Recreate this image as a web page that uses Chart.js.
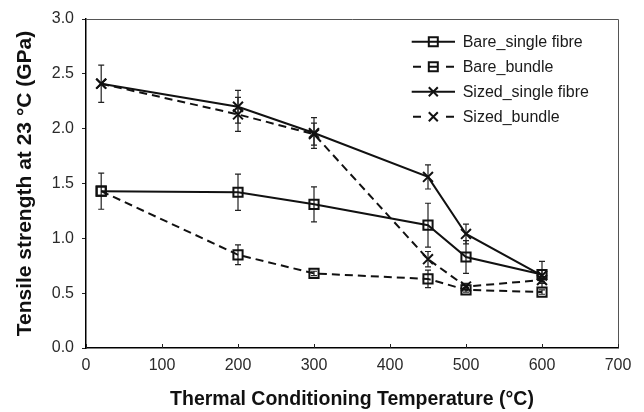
<!DOCTYPE html>
<html><head><meta charset="utf-8">
<script src="https://cdn.jsdelivr.net/npm/chart.js@4.4.1/dist/chart.umd.min.js"></script>
<style>html,body{margin:0;padding:0;background:#fff}#wrap{width:644px;height:412px}</style>
</head><body><div id="wrap"><canvas id="c" width="644" height="412"></canvas></div>
<script>
// ---- data ----
const temperatures = [20, 200, 300, 450, 500, 600];
const seriesNames = ['Bare_single fibre', 'Bare_bundle', 'Sized_single fibre', 'Sized_bundle'];
const bareSingle = [1.43, 1.42, 1.31, 1.12, 0.83, 0.67];
const bareSingleErr = [0.165, 0.165, 0.16, 0.20, 0.15, 0.12];
const bareBundle = [1.43, 0.85, 0.68, 0.63, 0.53, 0.51];
const bareBundleErr = [0, 0.09, 0.02, 0.08, 0.02, 0.02];
const sizedSingle = [2.41, 2.20, 1.96, 1.56, 1.04, 0.66];
const sizedSingleErr = [0.17, 0.15, 0.14, 0.11, 0.09, 0.05];
const sizedBundle = [2.41, 2.13, 1.95, 0.81, 0.56, 0.62];
const sizedBundleErr = [0, 0.155, 0.10, 0.07, 0.03, 0.03];
const xTickValues = [0, 100, 200, 300, 400, 500, 600, 700];
const yTickValues = [0, 0.5, 1.0, 1.5, 2.0, 2.5, 3.0];
const xTitle = 'Thermal Conditioning Temperature (°C)';
const yTitle = 'Tensile strength at 23 °C (GPa)';

const FONT = '"Liberation Sans", Arial, Helvetica, sans-serif';
const INK = '#111';

function pts(vals){ return temperatures.map((t,i)=>({x:t, y:vals[i]})); }

const errors = [bareSingleErr, bareBundleErr, sizedSingleErr, sizedBundleErr];

const errorBarPlugin = {
  id: 'errorBars',
  beforeDatasetsDraw(chart){
    const ctx = chart.ctx, xs = chart.scales.x, ys = chart.scales.y;
    ctx.save();
    ctx.strokeStyle = '#222';
    ctx.lineWidth = 1.2;
    chart.data.datasets.forEach((ds, i) => {
      const err = errors[i];
      ds.data.forEach((p, j) => {
        const e = err[j];
        if (!e) return;
        const x = xs.getPixelForValue(p.x);
        const y1 = ys.getPixelForValue(p.y + e);
        const y2 = ys.getPixelForValue(p.y - e);
        ctx.beginPath();
        ctx.moveTo(x, y1); ctx.lineTo(x, y2);
        ctx.moveTo(x - 3, y1); ctx.lineTo(x + 3, y1);
        ctx.moveTo(x - 3, y2); ctx.lineTo(x + 3, y2);
        ctx.stroke();
      });
    });
    ctx.restore();
  }
};

const framePlugin = {
  id: 'frame',
  afterDraw(chart){
    const ctx = chart.ctx, a = chart.chartArea, xs = chart.scales.x;
    ctx.save();
    ctx.strokeStyle = '#555';
    ctx.lineWidth = 1;
    ctx.beginPath();
    ctx.moveTo(a.left, a.top + 0.5); ctx.lineTo(a.right + 0.5, a.top + 0.5); ctx.lineTo(a.right + 0.5, a.bottom);
    ctx.stroke();
    // inward x ticks
    ctx.strokeStyle = '#222';
    ctx.beginPath();
    xTickValues.forEach(v => {
      const x = Math.round(xs.getPixelForValue(v)) + 0.5;
      ctx.moveTo(x, a.bottom); ctx.lineTo(x, a.bottom - 4);
    });
    ctx.stroke();
    ctx.restore();
  }
};

const legendPlugin = {
  id: 'customLegend',
  afterDraw(chart){
    const ctx = chart.ctx;
    ctx.save();
    chart.data.datasets.forEach((ds, i) => {
      const y = 41.7 + 25 * i;
      const cx = 433.3;
      ctx.strokeStyle = INK;
      ctx.lineWidth = 2;
      ctx.beginPath();
      if (ds.borderDash && ds.borderDash.length) {
        ctx.moveTo(413, y); ctx.lineTo(421, y);
        ctx.moveTo(446, y); ctx.lineTo(454, y);
        if (ds.pointStyle === 'rect') { ctx.moveTo(cx - 4.5, y); ctx.lineTo(cx + 4.5, y); }
      } else {
        ctx.moveTo(411.7, y); ctx.lineTo(455, y);
      }
      ctx.stroke();
      ctx.beginPath();
      if (ds.pointStyle === 'rect') {
        ctx.rect(cx - 4.5, y - 4.5, 9, 9);
      } else {
        ctx.moveTo(cx - 4.5, y - 4.5); ctx.lineTo(cx + 4.5, y + 4.5);
        ctx.moveTo(cx + 4.5, y - 4.5); ctx.lineTo(cx - 4.5, y + 4.5);
      }
      ctx.stroke();
      ctx.fillStyle = '#1a1a1a';
      ctx.font = '16px ' + FONT;
      ctx.textBaseline = 'middle';
      ctx.textAlign = 'left';
      ctx.fillText(ds.label, 462.7, y + 1);
    });
    ctx.restore();
  }
};

function ds(label, vals, dashed, style){
  return {
    label, data: pts(vals),
    borderColor: INK, borderWidth: 2,
    borderDash: dashed ? [8, 5] : [],
    pointStyle: style,
    pointRadius: style === 'rect' ? 6.5 : 7,
    pointBorderWidth: 2,
    pointBorderColor: INK,
    pointBackgroundColor: 'rgba(0,0,0,0)',
    fill: false, tension: 0
  };
}

new Chart(document.getElementById('c'), {
  type: 'line',
  data: {
    datasets: [
      ds(seriesNames[0], bareSingle, false, 'rect'),
      ds(seriesNames[1], bareBundle, true, 'rect'),
      ds(seriesNames[2], sizedSingle, false, 'crossRot'),
      ds(seriesNames[3], sizedBundle, true, 'crossRot')
    ]
  },
  options: {
    responsive: false,
    animation: false,
    layout: { padding: { top: 19, right: 26, left: 0, bottom: 0 } },
    plugins: { legend: { display: false }, tooltip: { enabled: false } },
    scales: {
      x: {
        type: 'linear', min: 0, max: 700,
        afterBuildTicks: s => { s.ticks = xTickValues.map(v => ({value: v})); },
        afterFit: s => { s.height = 64; },
        grid: { drawOnChartArea: false, drawTicks: false },
        border: { display: true, color: '#000', width: 1.5 },
        ticks: { color: '#2a2a2a', padding: 8, maxRotation: 0, font: { family: FONT, size: 16 } },
        title: { display: true, text: xTitle, color: '#111', padding: { top: 0, bottom: 0.3 },
                 font: { family: FONT, size: 19.5, weight: 'bold' } }
      },
      y: {
        min: 0, max: 3,
        afterBuildTicks: s => { s.ticks = yTickValues.map(v => ({value: v})); },
        afterFit: s => { s.width = 86; },
        grid: { drawOnChartArea: false, drawTicks: true, tickLength: 4, color: '#222' },
        border: { display: true, color: '#000', width: 1.5 },
        ticks: { color: '#2a2a2a', padding: 8, font: { family: FONT, size: 16 },
                 callback: v => Number(v).toFixed(1) },
        title: { display: true, text: yTitle, color: '#111', padding: { top: 12.4, bottom: 0 },
                 font: { family: FONT, size: 21, weight: 'bold' } }
      }
    }
  },
  plugins: [errorBarPlugin, framePlugin, legendPlugin]
});
</script>
</body></html>
